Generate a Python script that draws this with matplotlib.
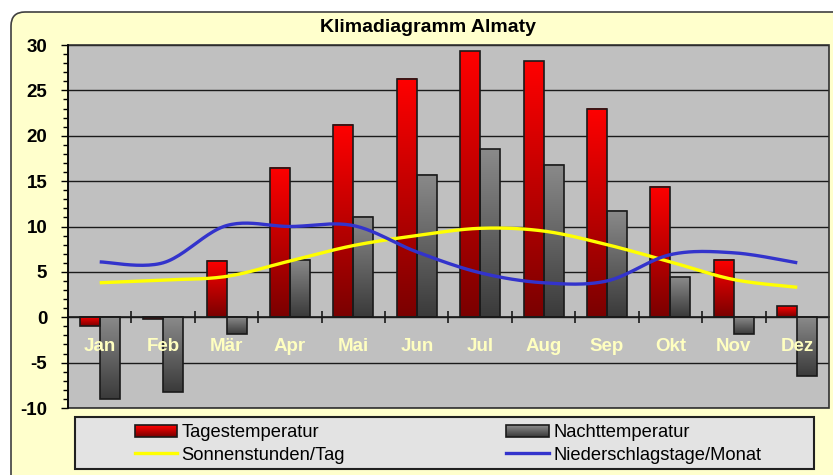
import numpy as np
import matplotlib
matplotlib.use('Agg')
import matplotlib.pyplot as plt
from matplotlib.patches import FancyBboxPatch, Rectangle
from matplotlib.lines import Line2D
from matplotlib.legend_handler import HandlerBase
from matplotlib.colors import LinearSegmentedColormap
from matplotlib.ticker import MultipleLocator, FixedLocator, NullFormatter
from matplotlib.transforms import IdentityTransform

# ---------------- data ----------------
months = ['Jan', 'Feb', 'Mär', 'Apr', 'Mai', 'Jun', 'Jul', 'Aug', 'Sep', 'Okt', 'Nov', 'Dez']
tages = [-1.0, -0.2, 6.2, 16.5, 21.2, 26.3, 29.3, 28.2, 23.0, 14.4, 6.3, 1.2]
nacht = [-9.0, -8.2, -1.8, 6.3, 11.1, 15.7, 18.5, 16.8, 11.7, 4.4, -1.8, -6.5]
sonne = [3.8, 4.1, 4.5, 6.2, 7.9, 9.0, 9.8, 9.5, 8.0, 6.1, 4.15, 3.3]
nieder = [6.1, 6.0, 10.1, 10.0, 10.1, 7.2, 4.9, 3.8, 4.0, 6.9, 7.1, 6.0]
title = 'Klimadiagramm Almaty'
labels = ['Tagestemperatur', 'Sonnenstunden/Tag', 'Nachttemperatur', 'Niederschlagstage/Monat']

FONT = 'Liberation Sans'
plt.rcParams['font.family'] = [FONT, 'DejaVu Sans']
plt.rcParams['axes.unicode_minus'] = False

W, H = 833, 475
fig = plt.figure(figsize=(W / 100, H / 100), dpi=100)
fig.patch.set_facecolor('white')

# rounded yellow frame (pixel coordinates)
frame = FancyBboxPatch((11, -30), 850, H - 12 + 30,
                       boxstyle='round,pad=0,rounding_size=14',
                       facecolor='#FFFFCC', edgecolor='#404040', lw=1.2,
                       transform=IdentityTransform(), zorder=0)
fig.add_artist(frame)

# legend box
lbox = Rectangle((75, H - 469), 814 - 75, 52, facecolor='#E3E3E3', edgecolor='#202020',
                 lw=1.5, transform=IdentityTransform(), zorder=1)
fig.add_artist(lbox)

ax = fig.add_axes([68 / W, 1 - 408 / H, (829 - 68) / W, (408 - 45) / H])
ax.set_zorder(2)
ax.set_facecolor('#C0C0C0')

x = np.arange(len(months))
bw = 0.315
red_cmap = LinearSegmentedColormap.from_list('r', ['#FF0000', '#7A0000'])
gray_cmap = LinearSegmentedColormap.from_list('g', ['#8A8A8A', '#3A3A3A'])

bars_t = ax.bar(x - bw / 2, tages, width=bw, facecolor='none', edgecolor='#1a1a1a', lw=1.2, zorder=3)
bars_n = ax.bar(x + bw / 2, nacht, width=bw, facecolor='none', edgecolor='#1a1a1a', lw=1.2, zorder=3)

grad = np.linspace(0, 1, 256).reshape(-1, 1)
for bars, cmap in ((bars_t, red_cmap), (bars_n, gray_cmap)):
    for b in bars:
        x0, y0 = b.get_x(), b.get_y()
        w, h = b.get_width(), b.get_height()
        lo, hi = min(y0, y0 + h), max(y0, y0 + h)
        ax.imshow(grad, extent=[x0, x0 + w, lo, hi], origin='upper', aspect='auto',
                  cmap=cmap, zorder=2.5, interpolation='bilinear')


def smooth(xs, ys, n=24):
    P = np.column_stack([xs, ys]).astype(float)
    P = np.vstack([P[0], P, P[-1]])
    out = []
    for i in range(1, len(P) - 2):
        p0, p1, p2, p3 = P[i - 1], P[i], P[i + 1], P[i + 2]
        t = np.linspace(0, 1, n, endpoint=(i == len(P) - 3)).reshape(-1, 1)
        m1 = (p2 - p0) / 2
        m2 = (p3 - p1) / 2
        h00 = 2 * t**3 - 3 * t**2 + 1
        h10 = t**3 - 2 * t**2 + t
        h01 = -2 * t**3 + 3 * t**2
        h11 = t**3 - t**2
        out.append(h00 * p1 + h10 * m1 + h01 * p2 + h11 * m2)
    Q = np.vstack(out)
    return Q[:, 0], Q[:, 1]


sx, sy = smooth(x, sonne)
ax.plot(sx, sy, color='#FFFF00', lw=2.4, zorder=4, solid_capstyle='butt')
nx, ny = smooth(x, nieder)
ax.plot(nx, ny, color='#3333CC', lw=2.4, zorder=4.1, solid_capstyle='butt')

ax.set_xlim(-0.5, 11.5)
ax.set_ylim(-10, 30)

# y axis
ax.yaxis.set_major_locator(MultipleLocator(5))
ax.yaxis.set_minor_locator(MultipleLocator(1))
ax.tick_params(axis='y', which='major', direction='out', length=5, width=1, pad=10,
               labelsize=13.5, colors='black')
ax.tick_params(axis='y', which='minor', direction='out', length=3.5, width=1)
for lab in ax.get_yticklabels():
    lab.set_fontweight('bold')
ax.yaxis.grid(True, which='major', color='#1a1a1a', lw=1)
ax.set_axisbelow(True)

# x axis at zero
ax.spines['bottom'].set_position(('data', 0))
ax.spines['bottom'].set_color('#1a1a1a')
ax.spines['bottom'].set_linewidth(1.2)
for s in ('top', 'right', 'left'):
    ax.spines[s].set_visible(False)
border = Rectangle((0, 0), 1, 1, transform=ax.transAxes, fill=False,
                   edgecolor='#303030', lw=1.2, zorder=5, clip_on=False)
ax.add_patch(border)
ax.plot([0, 0], [0, 1], transform=ax.transAxes, color='black', lw=1.2, zorder=5, clip_on=False)

ax.xaxis.set_major_locator(FixedLocator(np.arange(0.5, 11, 1)))
ax.xaxis.set_major_formatter(NullFormatter())
ax.tick_params(axis='x', which='major', direction='inout', length=9, width=1.2, color='#1a1a1a')

# month labels drawn above the bars
for xi, m in zip(x, months):
    ax.text(xi, -3.2, m, ha='center', va='center', fontsize=13.5, fontweight='bold',
            color='#FFFFC0', zorder=6)

fig.text(428 / W, 1 - 27 / H, title, ha='center', va='center', fontsize=14,
         fontweight='bold', color='black')


class GradHandler(HandlerBase):
    def __init__(self, c_top, c_bot, **kw):
        super().__init__(**kw)
        self.ct = np.array(matplotlib.colors.to_rgb(c_top))
        self.cb = np.array(matplotlib.colors.to_rgb(c_bot))

    def create_artists(self, legend, orig_handle, xdescent, ydescent, width, height, fontsize, trans):
        arts = []
        n = 12
        for i in range(n):
            f = i / (n - 1)
            c = self.cb * (1 - f) + self.ct * f
            r = Rectangle((-xdescent, -ydescent + height * i / n), width, height / n + 0.01,
                          facecolor=c, edgecolor='none', transform=trans)
            arts.append(r)
        arts.append(Rectangle((-xdescent, -ydescent), width, height, facecolor='none',
                              edgecolor='#1a1a1a', lw=1.2, transform=trans))
        return arts


h_t = Rectangle((0, 0), 1, 1)
h_n = Rectangle((0, 0), 1, 1, facecolor='gray')
h_s = Line2D([], [], color='#FFFF00', lw=2.4)
h_r = Line2D([], [], color='#3333CC', lw=2.4)
leg = fig.legend([h_t, h_s, h_n, h_r], labels, ncol=2, frameon=False,
                 loc='center', bbox_to_anchor=(448 / W, 1 - 444 / H),
                 fontsize=13.2, handlelength=2.3, handletextpad=0.25, columnspacing=8.8,
                 labelspacing=0.3, borderpad=0, handleheight=0.65,
                 handler_map={h_t: GradHandler('#FF0000', '#7A0000'),
                              h_n: GradHandler('#8A8A8A', '#3A3A3A')})
leg.set_zorder(3)

fig.savefig('out.png', dpi=100)
